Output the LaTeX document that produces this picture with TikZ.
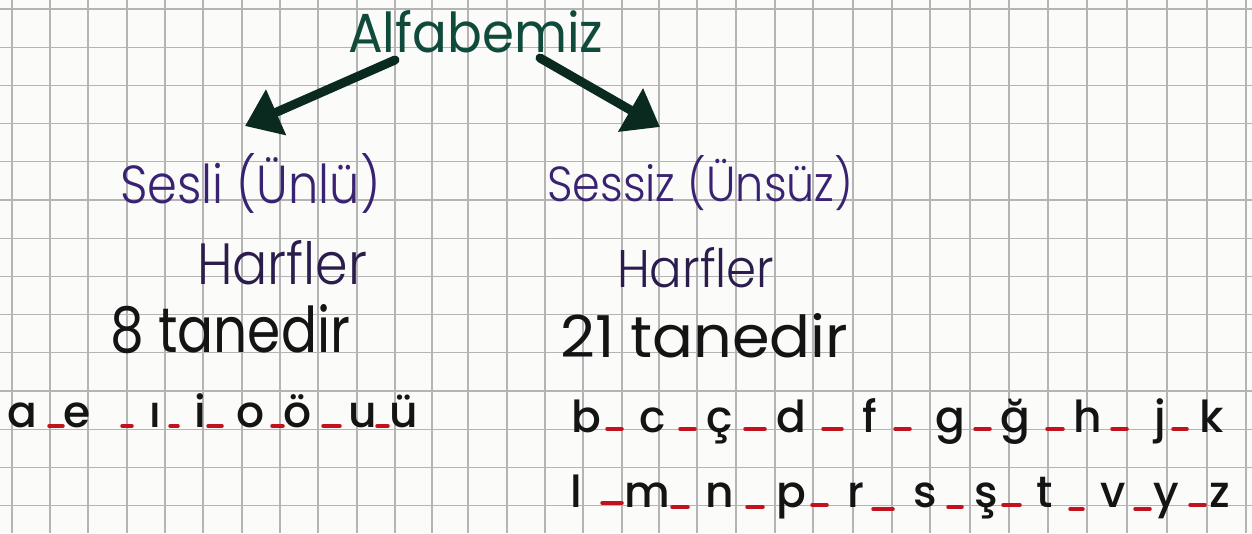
\documentclass[tikz,border=0pt]{standalone}
\usepackage{fontspec}
\setmainfont{Poppins}
\IfFontExistsTF{Poppins Light}{\newfontfamily\penfont{Poppins Light}}{\newfontfamily\penfont{Poppins}}
\IfFontExistsTF{Poppins Medium}{\newfontfamily\markerfont{Poppins Medium}}{\newfontfamily\markerfont{Poppins}}
\newfontfamily\midfont{Poppins}
\usetikzlibrary{arrows.meta}
\definecolor{gridc}{HTML}{B4B4B4}
\definecolor{paper}{HTML}{FBFBFA}
\definecolor{titleg}{HTML}{0F4A3B}
\definecolor{violetA}{HTML}{3A2272}
\definecolor{violetB}{HTML}{2B1C4C}
\definecolor{ink}{HTML}{141414}
\definecolor{dashred}{HTML}{C3121E}
\definecolor{arrowc}{HTML}{0B2A1F}
\newcommand{\fitbox}[3]{\resizebox{#1pt}{#2pt}{#3}}
\begin{document}
\begin{tikzpicture}[x=1pt,y=-1pt,
  gridline/.style={draw=gridc,line width=1.2pt},
  lbl/.style={inner sep=0pt,anchor=base west},
  letter/.style={inner sep=0pt,anchor=base,font=\markerfont\fontsize{44}{44}\selectfont,text=ink},
  reddash/.style={draw=dashred,line width=3.5pt,line cap=round},
  bigarrow/.style={draw=arrowc,line width=9pt,line cap=round,-{Triangle[length=34pt,width=48pt]}}]
\fill[paper] (0,0) rectangle (1252,533);
\useasboundingbox (0,0) rectangle (1252,533);
% grid
\foreach \gx in {12,50,88,127,165,203,242,280,318,357,395,432,468,507,545,583,622,659,697,736,775,813,853,892,930,970,1009,1048,1087,1127,1167,1207,1246}
  \draw[gridline] (\gx,0) -- (\gx,533);
\foreach \k in {0,...,13}
  \draw[gridline] (0,{9+38.2*\k}) -- (1252,{9+38.2*\k});
% title and headings
\node[lbl,text=titleg,font=\midfont] (title) at (348,52) {\fitbox{255}{42}{Alfabemiz}};
\node[lbl,text=violetA,font=\penfont] (sesli) at (120,203) {\fitbox{260}{50}{Sesli (Ünlü)}};
\node[lbl,text=violetA,font=\penfont] (sessiz) at (547,201) {\fitbox{306}{46}{Sessiz (Ünsüz)}};
\node[lbl,text=violetB,font=\penfont] (harf1) at (197,284) {\fitbox{170}{44}{Harfler}};
\node[lbl,text=violetB,font=\penfont] (harf2) at (617,287) {\fitbox{157}{40}{Harfler}};
\node[lbl,text=ink,font=\midfont] (say1) at (110,352) {\fitbox{240}{48}{8 tanedir}};
\node[lbl,text=ink,font=\midfont] (say2) at (560,357) {\fitbox{288}{44}{21 tanedir}};
% arrows
\coordinate (a1s) at (395,60);
\coordinate (a1e) at (245,126);
\coordinate (a2s) at (540,58);
\coordinate (a2e) at (660,127);
\draw[bigarrow] (a1s) -- (a1e);
\draw[bigarrow] (a2s) -- (a2e);
% vowels
\foreach \x/\l [count=\i] in {22/a,77/e,155/ı,200/i,251/o,298/ö,363/u,404/ü}
  \node[letter] (v\i) at (\x,427) {\l};
\foreach \a/\b in {49/63,122/132,170/178,208/222,272/283,323/340,377/388}
  \draw[reddash] (\a,426) -- (\b,426);
% consonants row 1
\foreach \x/\l [count=\i] in {586/b,653/c,720/ç,791/d,870/f,950/g,1015/ğ,1088/h,1160/j,1212/k}
  \node[letter] (c\i) at (\x,432) {\l};
\foreach \a/\b in {607/622,680/695,745/765,823/842,895/910,975/990,1047/1063,1112/1127,1173/1187}
  \draw[reddash] (\a,429) -- (\b,429);
% consonants row 2
\foreach \x/\l [count=\i] in {576/l,647/m,720/n,791/p,856/r,925/s,986/ş,1045/t,1113/v,1166/y,1220/z}
  \node[letter] (d\i) at (\x,507) {\l};
\foreach \a/\b/\y in {602/622/503,672/688/507,747/763/507,812/827/505,873/893/509,948/962/507,1003/1020/505,1070/1083/509,1135/1150/509,1190/1205/505}
  \draw[reddash] (\a,\y) -- (\b,\y);
\end{tikzpicture}
\end{document}
